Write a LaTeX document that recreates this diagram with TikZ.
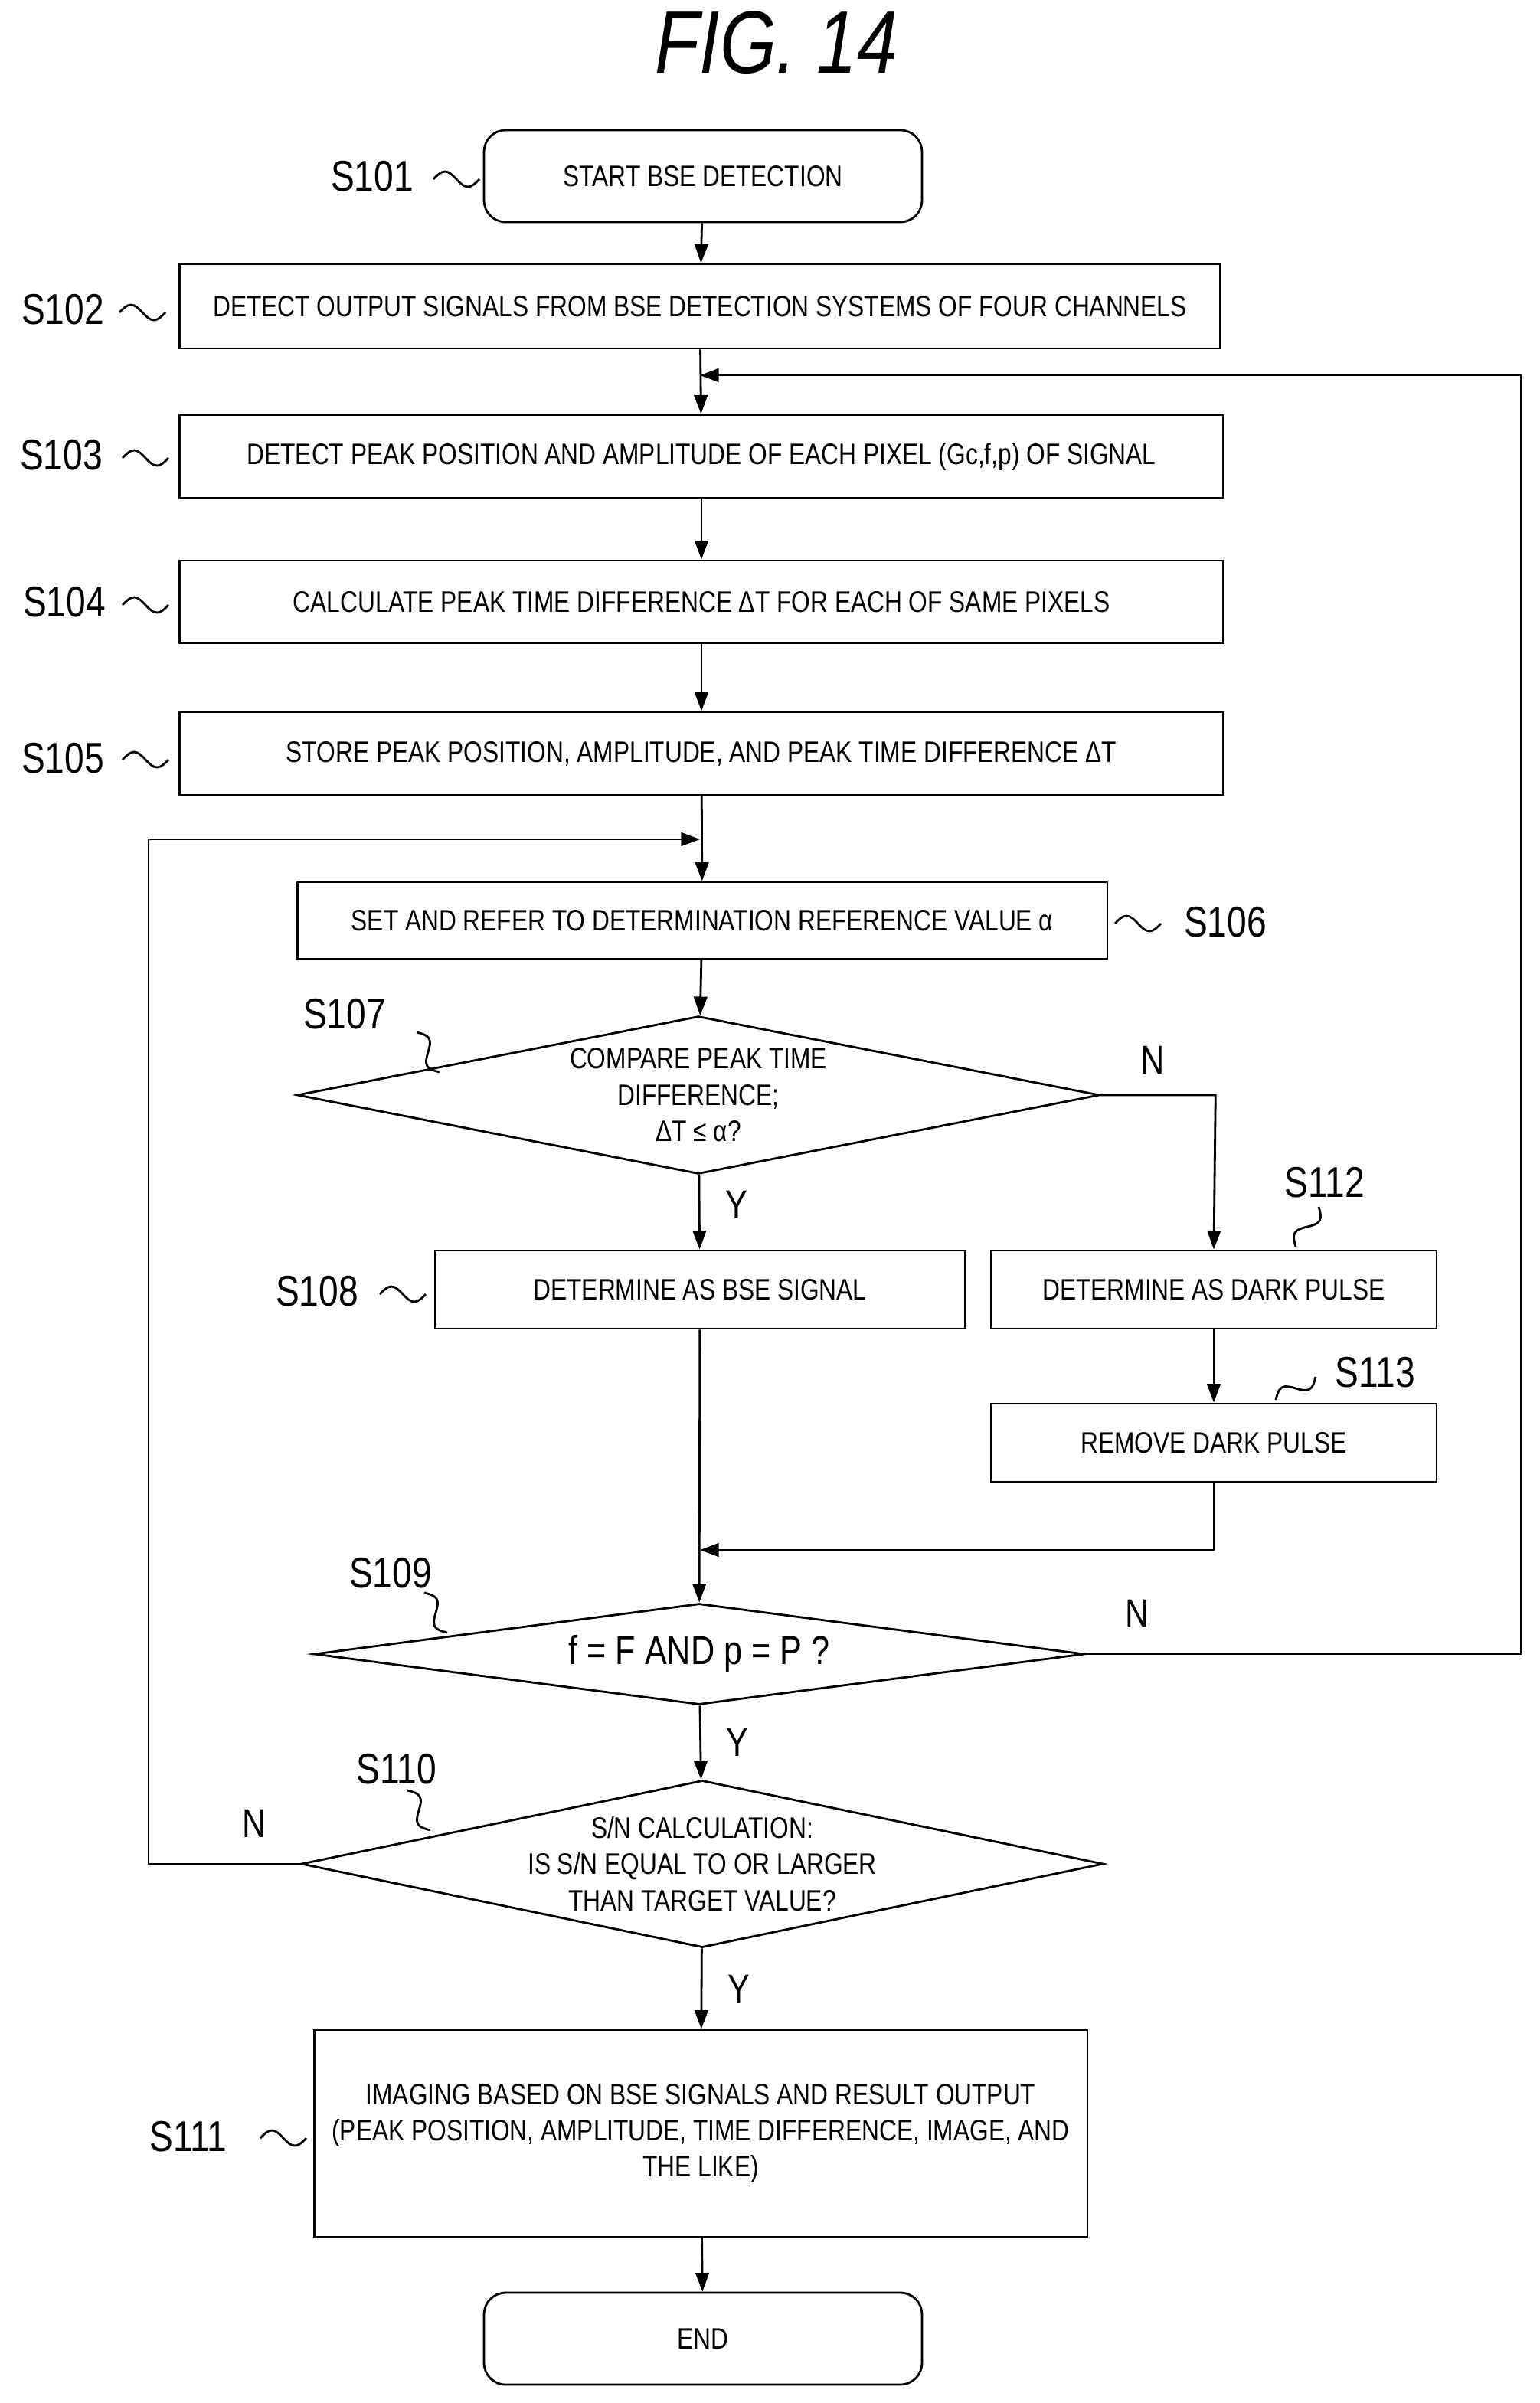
\documentclass[tikz,border=0pt]{standalone}
\usepackage{fontspec}
\setmainfont{Liberation Sans}[FakeStretch=0.82]
\usetikzlibrary{shapes.geometric,arrows.meta}
\begin{document}
\begin{tikzpicture}[x=0.02cm,y=-0.02cm,
    box/.style={rectangle, draw, thick, inner sep=1pt, align=center, font=\fontsize{11}{13.5}\selectfont},
    term/.style={box, rounded corners=8pt, minimum width=5.72cm, minimum height=1.2cm},
    wide/.style={box, minimum width=13.64cm, minimum height=1.08cm},
    dec/.style={diamond, draw, thick, inner sep=0pt, align=center, font=\fontsize{11}{13.5}\selectfont},
    steplbl/.style={font=\fontsize{16}{18}\selectfont},
    yn/.style={font=\fontsize{15}{18}\selectfont},
    arrow/.style={-{Triangle[length=7pt,width=5pt]}, thick},
    wave/.pic={\draw[thick] (0,0) sin ++(7.5,-5) cos ++(7.5,5) sin ++(7.5,5) cos ++(7.5,-5);}
]
    \useasboundingbox (0,0) rectangle (1005.5,1569);
    \node[font=\itshape\fontsize{33}{36}\selectfont] (title) at (507,28) {FIG. 14};

    % Nodes
    \node[term] (s101) at (459,115) {START BSE DETECTION};
    \node[wide, minimum width=13.6cm, minimum height=1.1cm] (s102) at (457,200) {DETECT OUTPUT SIGNALS FROM BSE DETECTION SYSTEMS OF FOUR CHANNELS};
    \node[wide] (s103) at (458,298) {DETECT PEAK POSITION AND AMPLITUDE OF EACH PIXEL (Gc,f,p) OF SIGNAL};
    \node[wide] (s104) at (458,393) {CALCULATE PEAK TIME DIFFERENCE ΔT FOR EACH OF SAME PIXELS};
    \node[wide] (s105) at (458,492) {STORE PEAK POSITION, AMPLITUDE, AND PEAK TIME DIFFERENCE ΔT};
    \node[box, minimum width=10.58cm, minimum height=1cm] (s106) at (458.5,601) {SET AND REFER TO DETERMINATION REFERENCE VALUE α};
    \node[dec, aspect=5.09, minimum width=10.48cm, minimum height=2.06cm] (s107) at (456,715) {COMPARE PEAK TIME\\DIFFERENCE;\\ΔT ≤ α?};
    \node[box, minimum width=6.92cm, minimum height=1.02cm] (s108) at (457,842) {DETERMINE AS BSE SIGNAL};
    \node[box, minimum width=5.82cm, minimum height=1.02cm] (s112) at (792.5,842) {DETERMINE AS DARK PULSE};
    \node[box, minimum width=5.82cm, minimum height=1.02cm] (s113) at (792.5,942) {REMOVE DARK PULSE};
    \node[dec, aspect=7.6, minimum width=10.06cm, minimum height=1.32cm, font=\fontsize{15}{17}\selectfont] (s109) at (456.5,1080) {f = F AND p = P ?};
    \node[dec, aspect=4.8, minimum width=10.06cm, minimum height=2.1cm] (s110) at (458.5,1217) {S/N CALCULATION:\\IS S/N EQUAL TO OR LARGER\\THAN TARGET VALUE?};
    \node[box, minimum width=10.1cm, minimum height=2.7cm] (s111) at (457.5,1393) {IMAGING BASED ON BSE SIGNALS AND RESULT OUTPUT\\(PEAK POSITION, AMPLITUDE, TIME DIFFERENCE, IMAGE, AND\\THE LIKE)};
    \node[term] (end) at (459,1527) {END};

    % Step labels
    \node[steplbl] (l101) at (243,115) {S101};
    \node[steplbl] (l102) at (41,202) {S102};
    \node[steplbl] (l103) at (40,297) {S103};
    \node[steplbl] (l104) at (42,393) {S104};
    \node[steplbl] (l105) at (41,495) {S105};
    \node[steplbl] (l106) at (800,602) {S106};
    \node[steplbl] (l107) at (225,662) {S107};
    \node[steplbl] (l108) at (207,843) {S108};
    \node[steplbl] (l112) at (865,772) {S112};
    \node[steplbl] (l113) at (898,896) {S113};
    \node[steplbl] (l109) at (255,1027) {S109};
    \node[steplbl] (l110) at (259,1155) {S110};
    \node[steplbl] (l111) at (123,1395) {S111};
    \pic at (283,117) {wave};
    \pic at (78,204) {wave};
    \pic at (80,299) {wave};
    \pic at (80,395) {wave};
    \pic at (80,496) {wave};
    \pic at (728,603) {wave};
    \pic at (248,845) {wave};
    \pic at (170,1396) {wave};
    \pic[rotate=-60] at (272,674) {wave};
    \pic[rotate=-60] at (277,1040) {wave};
    \pic[rotate=-60] at (266,1169) {wave};
    \pic[rotate=60] at (846,814) {wave};
    \pic[rotate=30] at (833,914) {wave};

    % Arrows
    \coordinate (j2) at (457,245);
    \coordinate (j3) at (457,548);
    \coordinate (j1) at (457,1012);
    \draw[arrow] (s101) -- (s102);
    \draw[arrow] (s102) -- (s103);
    \draw[arrow] (s103) -- (s104);
    \draw[arrow] (s104) -- (s105);
    \draw[arrow] (s105) -- (s106);
    \draw[arrow] (s106) -- (s107);
    \draw[arrow] (s107) -- node[yn, pos=0.4, right=6pt] {Y} (s108);
    \draw[arrow] (s107.east) -- node[yn, pos=0.45, above=4pt] {N} ++(75,0) -- (s112.north);
    \draw[arrow] (s112) -- (s113);
    \draw[arrow] (s113.south) |- (j1);
    \draw[arrow] (s108) -- (s109);
    \draw[arrow] (s109.east) -- node[yn, pos=0.12, above=6pt] {N} (993,1080) -- (993,245) -- (j2);
    \draw[arrow] (s109) -- node[yn, right=6pt] {Y} (s110);
    \draw[arrow] (s110.west) -- node[yn, pos=0.3, above=6pt] {N} (97,1217) -- (97,548) -- (j3);
    \draw[arrow] (s110) -- node[yn, right=6pt] {Y} (s111);
    \draw[arrow] (s111) -- (end);
\end{tikzpicture}
\end{document}
